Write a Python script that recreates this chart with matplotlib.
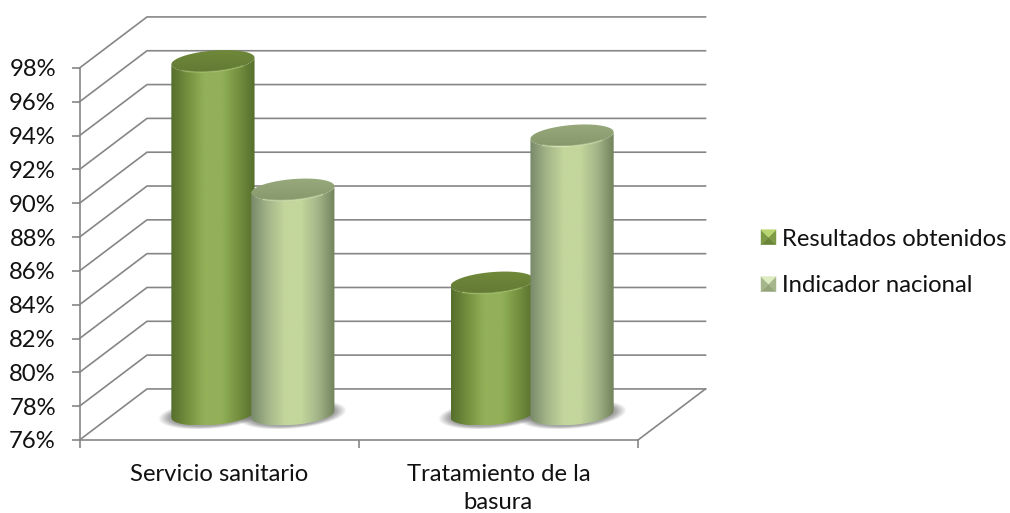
import matplotlib
matplotlib.use("Agg")
import matplotlib.pyplot as plt
import numpy as np
from matplotlib.colors import LinearSegmentedColormap
from matplotlib.legend_handler import HandlerBase
from matplotlib.patches import Patch, Polygon

plt.rcParams["font.family"] = ["Lato", "DejaVu Sans"]

categories = ["Servicio sanitario", "Tratamiento de la\nbasura"]
series_names = ["Resultados obtenidos", "Indicador nacional"]
resultados = [96.9, 83.8]
indicador = [89.3, 92.5]
y_ticks = list(range(76, 100, 2))

GRID = "#868686"
TEXT = "#111111"
FONT = 17.2

# one entry per series: body gradient, cap gradient, cap rim, legend bevel
DARK = {
    "body": ["#556e2c", "#75903f", "#93b059", "#93b059", "#75903f", "#556e2c"],
    "cap": ["#627a34", "#70893a"],
    "rim": "#a9c86c",
    "bevel": ["#b9d56f", "#7d9a45", "#6b8538", "#7d9a45"],
}
LIGHT = {
    "body": ["#78896a", "#a3b588", "#c3d69b", "#c3d69b", "#a3b588", "#72835c"],
    "cap": ["#87996c", "#98aa7c"],
    "rim": "#d6e6b0",
    "bevel": ["#dcebc0", "#a5b78a", "#93a579", "#a5b78a"],
}

# fake 3d: how far the back wall is shifted from the front, in data units
DEPTH_X = 0.2417
DEPTH_Y = 3.02
BAR_W = 0.298
BAR_STEP = 0.143
CAP_B = 0.62
CAP_TILT = 0.2


def ellipse(cx, cy, t):
    a = BAR_W / 2
    return np.column_stack([cx + a * np.cos(t), cy + CAP_B * np.sin(t) + CAP_TILT * np.cos(t)])


def grad_fill(ax, xy, colors, horizontal=True, zorder=3):
    cmap = LinearSegmentedColormap.from_list("g", colors)
    ramp = np.linspace(0, 1, 256)
    data = ramp[None, :] if horizontal else ramp[:, None]
    extent = (xy[:, 0].min(), xy[:, 0].max(), xy[:, 1].min(), xy[:, 1].max())
    im = ax.imshow(data, cmap=cmap, extent=extent, aspect="auto", origin="lower", zorder=zorder)
    im.set_clip_path(Polygon(xy, transform=ax.transData))
    im.set_clip_box(ax.figure.bbox)


def cylinder(ax, cx, value, style, zorder):
    base_y = 76 + DEPTH_Y / 2
    top_y = value + DEPTH_Y / 2
    lower = np.linspace(np.pi, 2 * np.pi, 80)
    full = np.linspace(0, 2 * np.pi, 160)
    body = np.vstack([ellipse(cx, base_y, lower), ellipse(cx, top_y, lower[::-1])])
    grad_fill(ax, body, style["body"], zorder=zorder)
    grad_fill(ax, ellipse(cx, top_y, full), style["cap"], horizontal=False, zorder=zorder + 0.1)
    rim = ellipse(cx, top_y, np.linspace(1.25 * np.pi, 1.75 * np.pi, 60))
    ax.plot(rim[:, 0], rim[:, 1], color=style["rim"], lw=1.3, alpha=0.45,
            clip_on=False, zorder=zorder + 0.2)


def shadow(ax, cx, zorder=2):
    # soft grey blob under one cylinder
    half_w = 0.195
    half_h = 0.85
    yy, xx = np.mgrid[-1:1:80j, -1:1:200j]
    r = np.sqrt(xx ** 2 + (yy - 0.3 * xx) ** 2)
    rgba = np.zeros(r.shape + (4,))
    rgba[..., :3] = 0.42
    rgba[..., 3] = np.clip((1 - r) * 3, 0, 0.6)
    cy = 76 + DEPTH_Y / 2
    im = ax.imshow(rgba, extent=(cx - half_w, cx + half_w, cy - half_h, cy + half_h),
                   aspect="auto", origin="lower", zorder=zorder)
    im.set_clip_box(ax.figure.bbox)


class BevelHandler(HandlerBase):
    def create_artists(self, legend, orig_handle, xdescent, ydescent, width, height, fontsize, trans):
        s = 15 * 0.72
        x0 = -xdescent
        y0 = -ydescent + (height - s) / 2
        pts = np.array([[x0, y0], [x0 + s, y0], [x0 + s, y0 + s], [x0, y0 + s]])
        mid = pts.mean(axis=0)
        order = [(0, 1), (1, 2), (3, 0), (3, 2)]  # bottom, right, left, top last
        colors = [orig_handle.bevel[2], orig_handle.bevel[1], orig_handle.bevel[3], orig_handle.bevel[0]]
        out = []
        for (a, b), c in zip(order, colors):
            out.append(Polygon([pts[a], pts[b], mid], facecolor=c, edgecolor=c, lw=0.3, transform=trans))
        return out


fig = plt.figure(figsize=(10.1, 5.13), dpi=100)
ax = fig.add_axes([79.5 / 1010, (513 - 440) / 513, 558.5 / 1010, 372 / 513])
ax.set_autoscale_on(False)
ax.set_xlim(0, 2)
ax.set_ylim(76, 98)

# back wall grid and the slanted side wall lines
for v in y_ticks:
    ax.plot([0, DEPTH_X, 2 + DEPTH_X], [v, v + DEPTH_Y, v + DEPTH_Y], color=GRID, lw=1.2,
            clip_on=False, zorder=1)
ax.plot([2, 2 + DEPTH_X], [76, 76 + DEPTH_Y], color=GRID, lw=1.2, clip_on=False, zorder=1)

centers = np.array([0.5, 1.5]) + DEPTH_X / 2
for i, c in enumerate(centers):
    shadow(ax, c - BAR_STEP)
    shadow(ax, c + BAR_STEP)
    cylinder(ax, c - BAR_STEP, resultados[i], DARK, 3)
    cylinder(ax, c + BAR_STEP, indicador[i], LIGHT, 4)

ax.set_xlim(0, 2)
ax.set_ylim(76, 98)

for side in ["top", "right"]:
    ax.spines[side].set_visible(False)
for side in ["left", "bottom"]:
    ax.spines[side].set_color(GRID)
    ax.spines[side].set_linewidth(1.2)
    ax.spines[side].set_zorder(1.5)

ax.set_yticks(y_ticks)
ax.set_yticklabels([f"{v}%" for v in y_ticks], fontsize=FONT, color=TEXT)
ax.tick_params(axis="y", length=6, width=1.2, color=GRID, pad=11)
ax.set_xticks([0, 1, 2])
ax.set_xticklabels([])
ax.tick_params(axis="x", which="major", length=6, width=1.2, color=GRID)
ax.set_xticks([0.5, 1.5], minor=True)
ax.set_xticklabels(categories, minor=True, fontsize=FONT, color=TEXT, linespacing=1.45)
ax.tick_params(axis="x", which="minor", length=0, pad=17)
ax.patch.set_alpha(0)

handles = []
for name, style in zip(series_names, [DARK, LIGHT]):
    h = Patch(label=name)
    h.bevel = style["bevel"]
    handles.append(h)
leg = ax.legend(handles=handles, handler_map={Patch: BevelHandler()}, frameon=False, fontsize=FONT,
                loc="center left", bbox_to_anchor=(761 / 1010, (513 - 262.5) / 513),
                bbox_transform=fig.transFigure, handlelength=0.63, handletextpad=0.25,
                labelspacing=1.08, borderpad=0, borderaxespad=0)
for t in leg.get_texts():
    t.set_color(TEXT)

fig.savefig("out.png", dpi=100)
